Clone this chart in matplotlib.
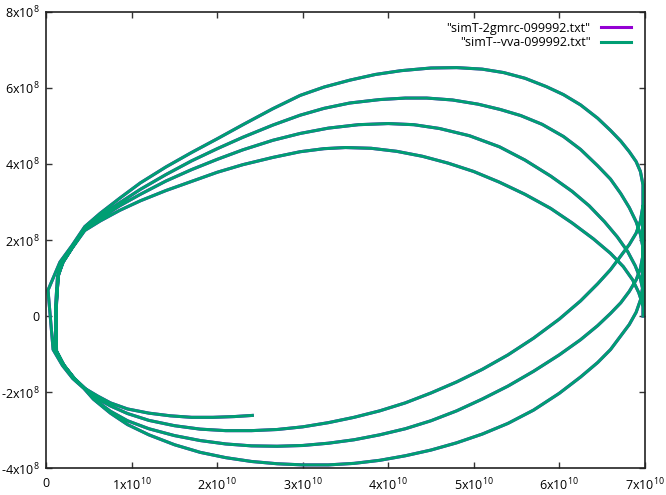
import matplotlib
matplotlib.use("Agg")
import matplotlib.pyplot as plt
import numpy as np

plt.rcParams['font.family'] = ['Open Sans', 'DejaVu Sans']
plt.rcParams['mathtext.fontset'] = 'custom'
plt.rcParams['mathtext.rm'] = 'Open Sans'
plt.rcParams['mathtext.it'] = 'Open Sans'

# ---- data: x in units of 1e10, y in units of 1e8 ----
# short final bottom arc (innermost), traced from its free end towards the left
arc4_x = [2.41, 2.20, 1.95, 1.70, 1.45, 1.20, 0.95, 0.75, 0.60]
arc4_y = [-2.61, -2.64, -2.66, -2.66, -2.62, -2.55, -2.44, -2.28, -2.10]
# periapsis passages near the left edge
peri1_x = [0.45, 0.32, 0.20, 0.11, 0.12, 0.14, 0.19, 0.30]
peri1_y = [-1.90, -1.62, -1.28, -0.88, 0.40, 1.05, 1.40, 1.78]
peri2_x = [0.46, 0.33, 0.21, 0.12, 0.11, 0.13, 0.18, 0.30]
peri2_y = [-1.92, -1.64, -1.30, -0.92, 0.30, 1.00, 1.38, 1.80]
peri3_x = [0.45, 0.32, 0.20, 0.10, 0.12, 0.14, 0.20, 0.31]
peri3_y = [-1.90, -1.63, -1.27, -0.90, 0.35, 1.08, 1.43, 1.82]
peri4_x = [0.44, 0.31, 0.19, 0.08, 0.02, 0.08, 0.16, 0.30]
peri4_y = [-1.90, -1.64, -1.30, -0.88, 0.68, 1.00, 1.42, 1.85]
# upper arcs (left to right), peaks 4.4, 5.0, 5.7, 6.5 (x1e8)
topD_x = [0.45, 0.63, 0.86, 1.10, 1.40, 1.70, 2.00, 2.30, 2.65, 2.97, 3.25, 3.50, 3.80, 4.10, 4.40,
          4.70, 5.00, 5.30, 5.60, 5.90, 6.15, 6.40, 6.60, 6.75, 6.86, 6.93, 6.98]
topD_y = [2.25, 2.50, 2.78, 3.03, 3.30, 3.54, 3.78, 3.98, 4.17, 4.32, 4.40, 4.43, 4.41, 4.33, 4.20,
          4.02, 3.80, 3.52, 3.20, 2.83, 2.45, 2.03, 1.65, 1.30, 0.95, 0.62, 0.28]
topC_x = [0.45, 0.63, 0.86, 1.10, 1.40, 1.70, 2.00, 2.30, 2.65, 2.97, 3.30, 3.65, 4.00, 4.30, 4.60,
          4.95, 5.30, 5.60, 5.90, 6.15, 6.35, 6.53, 6.68, 6.80, 6.89, 6.95, 6.98]
topC_y = [2.28, 2.57, 2.90, 3.20, 3.55, 3.85, 4.12, 4.37, 4.62, 4.80, 4.94, 5.03, 5.06, 5.03, 4.93,
          4.74, 4.45, 4.10, 3.68, 3.28, 2.90, 2.48, 2.08, 1.70, 1.32, 0.98, 0.68]
topB_x = [0.45, 0.63, 0.86, 1.10, 1.40, 1.70, 2.00, 2.30, 2.65, 2.97, 3.25, 3.55, 3.90, 4.20, 4.45,
          4.75, 5.05, 5.31, 5.55, 5.80, 6.05, 6.25, 6.45, 6.60, 6.72, 6.82, 6.90, 6.95, 6.98]
topB_y = [2.30, 2.62, 2.98, 3.33, 3.72, 4.08, 4.40, 4.70, 5.02, 5.28, 5.46, 5.60, 5.69, 5.73, 5.73,
          5.68, 5.57, 5.43, 5.27, 5.04, 4.72, 4.38, 3.95, 3.60, 3.22, 2.85, 2.48, 2.15, 1.80]
topA_x = [0.45, 0.63, 0.86, 1.10, 1.40, 1.70, 2.00, 2.30, 2.65, 2.97, 3.25, 3.55, 3.85, 4.15, 4.50,
          4.80, 5.10, 5.35, 5.60, 5.85, 6.05, 6.25, 6.45, 6.60, 6.72, 6.82, 6.90, 6.95, 6.98]
topA_y = [2.35, 2.70, 3.10, 3.50, 3.92, 4.30, 4.66, 5.03, 5.45, 5.80, 6.02, 6.20, 6.35, 6.45, 6.52,
          6.53, 6.49, 6.40, 6.25, 6.03, 5.82, 5.55, 5.20, 4.88, 4.60, 4.32, 4.06, 3.80, 3.45]
# lower arcs (right to left), troughs -3.0, -3.4, -3.9 (x1e8)
bot3_x = [6.98, 6.95, 6.90, 6.82, 6.72, 6.60, 6.45, 6.25, 6.00, 5.70, 5.40, 5.10, 4.80, 4.50, 4.20,
          3.90, 3.60, 3.30, 3.00, 2.70, 2.40, 2.10, 1.80, 1.50, 1.20, 0.95, 0.75, 0.60]
bot3_y = [2.90, 2.50, 2.18, 1.88, 1.58, 1.22, 0.85, 0.40, -0.08, -0.58, -1.02, -1.40, -1.73, -2.02, -2.28,
          -2.49, -2.66, -2.80, -2.91, -2.98, -3.01, -3.01, -2.97, -2.88, -2.74, -2.56, -2.36, -2.17]
bot2_x = [6.98, 6.95, 6.90, 6.82, 6.72, 6.60, 6.45, 6.25, 6.00, 5.70, 5.40, 5.10, 4.80, 4.50, 4.20,
          3.90, 3.60, 3.30, 3.00, 2.70, 2.40, 2.10, 1.80, 1.50, 1.20, 0.95, 0.75, 0.60]
bot2_y = [1.60, 1.25, 0.95, 0.65, 0.35, 0.07, -0.25, -0.62, -1.02, -1.45, -1.84, -2.18, -2.49, -2.75, -2.96,
          -3.12, -3.25, -3.34, -3.40, -3.42, -3.41, -3.36, -3.27, -3.14, -2.96, -2.75, -2.50, -2.25]
bot1_x = [6.98, 6.95, 6.90, 6.82, 6.72, 6.60, 6.45, 6.25, 6.00, 5.70, 5.40, 5.10, 4.80, 4.50, 4.20,
          3.90, 3.60, 3.30, 3.00, 2.70, 2.40, 2.10, 1.80, 1.50, 1.20, 0.95, 0.75, 0.55]
bot1_y = [0.80, 0.42, 0.10, -0.22, -0.52, -0.88, -1.22, -1.60, -2.03, -2.47, -2.82, -3.10, -3.33, -3.52, -3.67,
          -3.79, -3.87, -3.91, -3.91, -3.88, -3.82, -3.72, -3.58, -3.38, -3.12, -2.85, -2.55, -2.18]
# final slide down the right-hand edge
edge_x = [6.98]
edge_y = [0.00]

# order of the pieces along the trajectory
x_vva_e10 = (arc4_x + peri1_x + topD_x + bot3_x + peri2_x + topC_x + bot2_x
             + peri3_x + topB_x + bot1_x + peri4_x + topA_x + edge_x)
y_vva_e8 = (arc4_y + peri1_y + topD_y + bot3_y + peri2_y + topC_y + bot2_y
            + peri3_y + topB_y + bot1_y + peri4_y + topA_y + edge_y)
# the two runs coincide at this scale
x_2gmrc_e10 = list(x_vva_e10)
y_2gmrc_e8 = list(y_vva_e8)

labels = ['"simT-2gmrc-099992.txt"', '"simT--vva-099992.txt"']
colors = ['#9400d3', '#009e73']

x_ticks_e10 = [0, 1, 2, 3, 4, 5, 6, 7]
y_ticks_e8 = [-4, -2, 0, 2, 4, 6, 8]


def xlab(v):
    return '0' if v == 0 else f'{v}x10$^{{10}}$'


def ylab(v):
    return '0' if v == 0 else f'{v}x10$^{{8}}$'


fig = plt.figure(figsize=(6.66, 4.95), dpi=100)
ax = fig.add_axes([0.0695, 0.0539, 0.8985, 0.9225])

ax.plot(np.array(x_2gmrc_e10) * 1e10, np.array(y_2gmrc_e8) * 1e8, color=colors[0], lw=2.2,
        label=labels[0], solid_joinstyle='round')
ax.plot(np.array(x_vva_e10) * 1e10, np.array(y_vva_e8) * 1e8, color=colors[1], lw=2.2,
        label=labels[1], solid_joinstyle='round')

ax.set_xlim(0, 7e10)
ax.set_ylim(-4e8, 8e8)
ax.set_xticks([v * 1e10 for v in x_ticks_e10])
ax.set_xticklabels([xlab(v) for v in x_ticks_e10])
ax.set_yticks([v * 1e8 for v in y_ticks_e8])
ax.set_yticklabels([ylab(v) for v in y_ticks_e8])
ax.tick_params(direction='in', length=4.5, width=1.0, color='#333333', labelsize=9,
               top=True, right=True, pad=5)
ax.tick_params(axis='x', pad=6)
for s in ax.spines.values():
    s.set_linewidth(1.2)
    s.set_color('#222222')

ax.legend(loc='upper right', frameon=False, markerfirst=False, fontsize=9,
          handlelength=2.4, handletextpad=0.8, labelspacing=0.12,
          borderaxespad=0.0, bbox_to_anchor=(1 - 9 / 598, 1 - 5 / 457))

fig.savefig('out.png', dpi=100)
